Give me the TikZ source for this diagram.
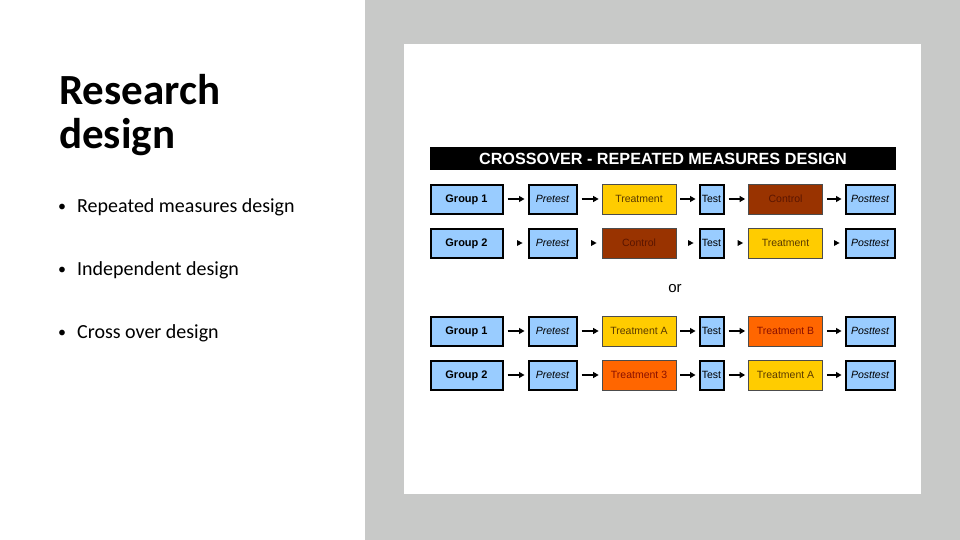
\documentclass[tikz,border=0pt]{standalone}
\usepackage{fontspec}
\setmainfont{Carlito}
\newfontfamily\arialf{Liberation Sans}
\usetikzlibrary{arrows.meta}
\definecolor{panelgray}{HTML}{C8C9C8}
\definecolor{bluebox}{HTML}{99CCFF}
\definecolor{yellowbox}{HTML}{FFCC00}
\definecolor{brownbox}{HTML}{993300}
\definecolor{orangebox}{HTML}{FF6600}
\definecolor{browntext}{HTML}{5A1500}
\definecolor{yellowtext}{HTML}{5A3A00}
\definecolor{orangetext}{HTML}{8A1000}
\tikzset{
  bx/.style={draw=black, line width=2pt, fill=bluebox, minimum height=29, inner sep=0pt, text height=8pt, text depth=0.4pt, font=\arialf\fontsize{10.5}{12}\selectfont},
  grp/.style={bx, minimum width=72, font=\arialf\bfseries\fontsize{11}{13}\selectfont},
  pre/.style={bx, minimum width=48, font=\arialf\itshape\fontsize{10.5}{12}\selectfont},
  tst/.style={bx, minimum width=24},
  post/.style={bx, minimum width=49, font=\arialf\itshape\fontsize{10.5}{12}\selectfont},
  col/.style={draw=black!70, line width=0.8pt, minimum height=30, minimum width=74, inner sep=0pt, text height=8pt, text depth=0.4pt, font=\arialf\fontsize{10.5}{12}\selectfont},
  yel/.style={col, fill=yellowbox, text=yellowtext},
  brn/.style={col, fill=brownbox, text=browntext},
  org/.style={col, fill=orangebox, text=orangetext},
  arr/.style={line width=1.2pt, -{Triangle[length=5.5pt,width=6pt]}, shorten <=4pt, shorten >=3pt},
  bul/.style={anchor=base west, inner sep=0pt, font=\fontsize{20}{22}\selectfont},
  ttl/.style={anchor=base west, inner sep=0pt, font=\bfseries\fontsize{43}{44}\selectfont}
}
\newcommand{\headonly}[1]{\fill (#1.west) ++(-5,0) -- ++(-5.5,-3) -- ++(0,6) -- cycle;}
\begin{document}
\begin{tikzpicture}[x=1pt,y=-1pt]
\useasboundingbox (0,0) rectangle (960,540);
\fill[white] (0,0) rectangle (960,540);
\fill[panelgray] (365,0) rectangle (960,540);
\fill[white] (404,44) rectangle (921,494);

% left text
\node[ttl] (t1) at (59,105) {Research};
\node[ttl] (t2) at (59,149) {design};
\node[bul, font=\fontsize{16}{18}\selectfont] (b1) at (58,211) {•};
\node[bul] (l1) at (77,212) {Repeated measures design};
\node[bul, font=\fontsize{16}{18}\selectfont] (b2) at (58,274) {•};
\node[bul] (l2) at (77,275) {Independent design};
\node[bul, font=\fontsize{16}{18}\selectfont] (b3) at (58,337) {•};
\node[bul] (l3) at (77,338) {Cross over design};

% title bar
\node[fill=black, minimum width=466, minimum height=23, inner sep=0pt,
      text=white, text height=11.5pt, text depth=0pt, font=\arialf\bfseries\fontsize{16.2}{18}\selectfont] (bar) at (663,158.5)
  {CROSSOVER - REPEATED MEASURES DESIGN};

% row 1
\node[grp] (g1) at (466.5,199) {Group 1};
\node[pre] (p1) at (552.5,199) {Pretest};
\node[yel] (a1) at (639,199) {Treatment};
\node[tst] (s1) at (711.5,199) {Test};
\node[brn] (c1) at (785.5,199) {Control};
\node[post] (q1) at (870,199) {Posttest};
\draw[arr] (g1) -- (p1);
\draw[arr] (p1) -- (a1);
\draw[arr] (a1) -- (s1);
\draw[arr] (s1) -- (c1);
\draw[arr] (c1) -- (q1);

% row 2
\node[grp] (g2) at (466.5,243) {Group 2};
\node[pre] (p2) at (552.5,243) {Pretest};
\node[brn] (a2) at (639,243) {Control};
\node[tst] (s2) at (711.5,243) {Test};
\node[yel] (c2) at (785.5,243) {Treatment};
\node[post] (q2) at (870,243) {Posttest};
\headonly{p2}
\headonly{a2}
\headonly{s2}
\headonly{c2}
\headonly{q2}

% or
\node[font=\arialf\fontsize{15}{17}\selectfont, inner sep=0pt] (or) at (675,289) {or};

% row 3
\node[grp] (g3) at (466.5,331) {Group 1};
\node[pre] (p3) at (552.5,331) {Pretest};
\node[yel] (a3) at (639,331) {Treatment A};
\node[tst] (s3) at (711.5,331) {Test};
\node[org] (c3) at (785.5,331) {Treatment B};
\node[post] (q3) at (870,331) {Posttest};
\draw[arr] (g3) -- (p3);
\draw[arr] (p3) -- (a3);
\draw[arr] (a3) -- (s3);
\draw[arr] (s3) -- (c3);
\draw[arr] (c3) -- (q3);

% row 4
\node[grp] (g4) at (466.5,375) {Group 2};
\node[pre] (p4) at (552.5,375) {Pretest};
\node[org] (a4) at (639,375) {Treatment 3};
\node[tst] (s4) at (711.5,375) {Test};
\node[yel] (c4) at (785.5,375) {Treatment A};
\node[post] (q4) at (870,375) {Posttest};
\draw[arr] (g4) -- (p4);
\draw[arr] (p4) -- (a4);
\draw[arr] (a4) -- (s4);
\draw[arr] (s4) -- (c4);
\draw[arr] (c4) -- (q4);
\end{tikzpicture}
\end{document}
